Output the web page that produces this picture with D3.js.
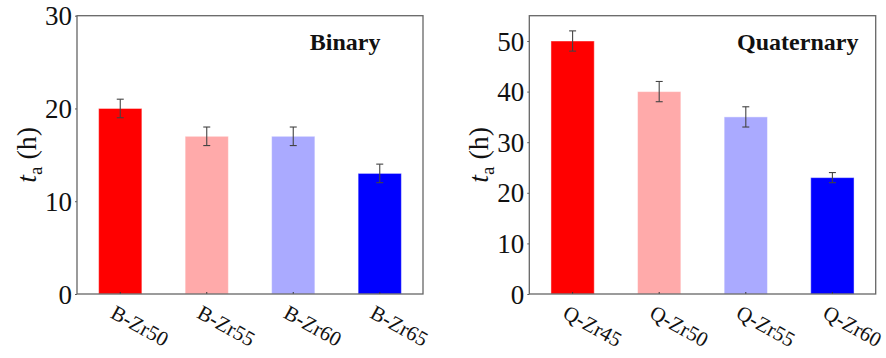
<!DOCTYPE html>
<html>
<head>
<meta charset="utf-8">
<script src="https://cdn.jsdelivr.net/npm/d3@7"></script>
<style>
  html, body { margin: 0; padding: 0; background: #fff; }
  svg { display: block; }
</style>
</head>
<body>
<svg id="chart" width="886" height="358"></svg>
<script>
// Incubation time t_a for the binary and quaternary alloys
const binaryCategories = ["B-Zr50", "B-Zr55", "B-Zr60", "B-Zr65"];
const binaryValues = [20, 17, 17, 13];
const binaryErrors = [1, 1, 1, 1];
const binaryTicks = [0, 10, 20, 30];

const quatCategories = ["Q-Zr45", "Q-Zr50", "Q-Zr55", "Q-Zr60"];
const quatValues = [50, 40, 35, 23];
const quatErrors = [2, 2, 2, 1];
const quatTicks = [0, 10, 20, 30, 40, 50];

const barColors = ["#ff0000", "#ffaaaa", "#aaaaff", "#0000ff"];

const svg = d3.select("#chart");
const serif = "'Liberation Serif', 'Times New Roman', serif";

function panel(opts) {
  const { left, right, top, bottom, categories, values, errors, ticks, yMax, title, labelX } = opts;
  const g = svg.append("g");

  const x = d3.scaleBand()
    .domain(categories)
    .range([left, right])
    .paddingInner(0.5)
    .paddingOuter(0.25);
  const y = d3.scaleLinear().domain([0, yMax]).range([bottom, top]);

  // bars
  g.selectAll("rect.bar")
    .data(categories)
    .join("rect")
    .attr("class", "bar")
    .attr("x", d => x(d))
    .attr("width", x.bandwidth())
    .attr("y", (d, i) => y(values[i]))
    .attr("height", (d, i) => y(0) - y(values[i]))
    .attr("fill", (d, i) => barColors[i])
    .attr("stroke", "rgba(255,255,255,0.45)")
    .attr("stroke-width", 1);

  // error bars
  const eg = g.selectAll("g.err")
    .data(categories)
    .join("g")
    .attr("class", "err")
    .attr("stroke", "#444")
    .attr("stroke-width", 1.1);
  eg.append("line")
    .attr("x1", d => x(d) + x.bandwidth() / 2)
    .attr("x2", d => x(d) + x.bandwidth() / 2)
    .attr("y1", (d, i) => y(values[i] - errors[i]))
    .attr("y2", (d, i) => y(values[i] + errors[i]));
  [-1, 1].forEach(s => {
    eg.append("line")
      .attr("x1", d => x(d) + x.bandwidth() / 2 - 3.5)
      .attr("x2", d => x(d) + x.bandwidth() / 2 + 3.5)
      .attr("y1", (d, i) => y(values[i] + s * errors[i]))
      .attr("y2", (d, i) => y(values[i] + s * errors[i]));
  });

  // y axis
  const yAxis = g.append("g")
    .attr("transform", `translate(${left},0)`)
    .call(d3.axisLeft(y).tickValues(ticks).tickSize(2).tickPadding(3).tickFormat(d3.format("d")));
  yAxis.select(".domain").remove();
  yAxis.selectAll(".tick line").attr("stroke", "#555");
  yAxis.selectAll(".tick text")
    .attr("font-family", serif)
    .attr("font-size", 27)
    .attr("fill", "#111")
    .attr("dy", "0.34em");

  // x axis: small inward ticks at bar centres, rotated labels
  const xAxis = g.append("g")
    .attr("transform", `translate(0,${bottom})`)
    .call(d3.axisBottom(x).tickSize(-2).tickFormat(""));
  xAxis.select(".domain").remove();
  xAxis.selectAll(".tick line").attr("stroke", "#333");
  g.selectAll("text.cat")
    .data(categories)
    .join("text")
    .attr("class", "cat")
    .attr("transform", d => `translate(${x(d) + x.bandwidth() / 2 - 11},${bottom + 23}) rotate(29)`)
    .attr("font-family", serif)
    .attr("font-size", 21)
    .attr("fill", "#111")
    .text(d => d);

  // frame
  g.append("rect")
    .attr("x", left).attr("y", top)
    .attr("width", right - left).attr("height", bottom - top)
    .attr("fill", "none")
    .attr("stroke", "#666")
    .attr("stroke-width", 1.3);

  // y label: t_a (h)
  const yl = g.append("text")
    .attr("transform", `translate(${labelX},${(top + bottom) / 2}) rotate(-90)`)
    .attr("text-anchor", "middle")
    .attr("font-family", serif)
    .attr("font-size", 28)
    .attr("fill", "#111");
  yl.append("tspan").attr("font-style", "italic").text("t");
  yl.append("tspan").attr("font-size", 19).attr("dy", 6).text("a");
  yl.append("tspan").attr("dy", -6).text(" (h)");

  // panel title
  g.append("text")
    .attr("x", left + (right - left) * 0.775)
    .attr("y", 50)
    .attr("text-anchor", "middle")
    .attr("font-family", serif)
    .attr("font-weight", "bold")
    .attr("font-size", 24)
    .attr("fill", "#111")
    .text(title);
}

panel({
  left: 77, right: 423, top: 15.7, bottom: 294,
  categories: binaryCategories, values: binaryValues, errors: binaryErrors,
  ticks: binaryTicks, yMax: 30, title: "Binary", labelX: 36
});

panel({
  left: 529.3, right: 875.7, top: 15.7, bottom: 294,
  categories: quatCategories, values: quatValues, errors: quatErrors,
  ticks: quatTicks, yMax: 55, title: "Quaternary", labelX: 488
});
</script>
</body>
</html>
